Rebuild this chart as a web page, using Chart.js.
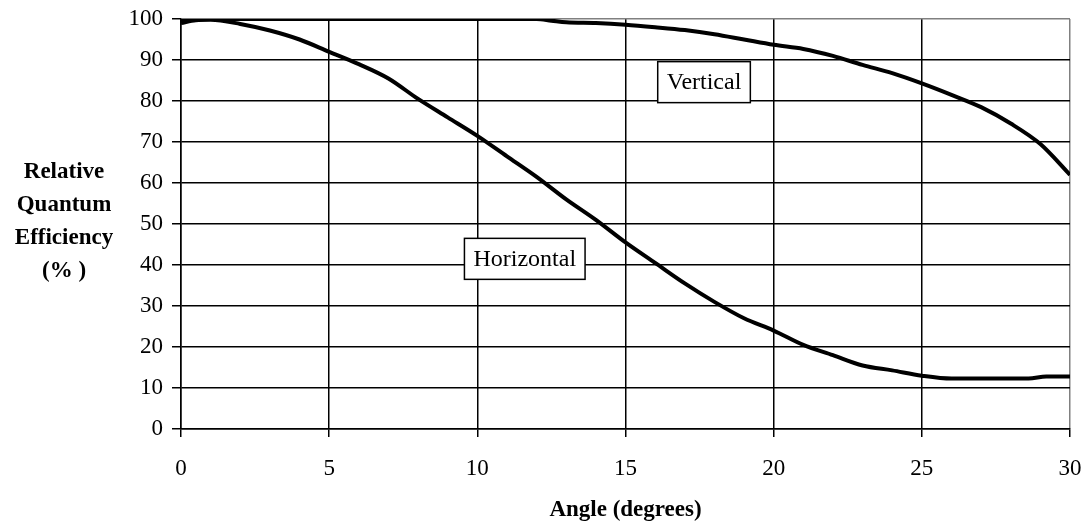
<!DOCTYPE html>
<html>
<head>
<meta charset="utf-8">
<script src="https://cdn.jsdelivr.net/npm/chart.js@4/dist/chart.umd.min.js"></script>
<style>
  html, body { margin: 0; padding: 0; background: #fff; }
  #wrap { width: 1089px; height: 529px; }
</style>
</head>
<body>
<div id="wrap"><canvas id="qe"></canvas></div>
<script>
// angle (degrees) and relative quantum efficiency (%)
var horizAngle = [0, 0.5, 1, 2, 3, 4, 5, 6, 7, 8, 9, 10, 11, 12, 13, 14, 15, 16, 17, 18, 19, 20, 21, 22, 23, 24, 25, 26, 27, 28, 28.6, 29.2, 30];
var horizQE = [99, 99.7, 99.8, 98.8, 97.2, 95, 92, 89, 85.5, 80.5, 76, 71.5, 66.5, 61.5, 56, 51, 45.5, 40.5, 35.5, 31, 27, 24, 20.5, 18, 15.5, 14.3, 13, 12.3, 12.3, 12.3, 12.3, 12.8, 12.8];

var vertAngle = [0, 2, 4, 6, 8, 10, 12, 12.5, 13, 14, 15, 16, 17, 18, 19, 20, 21, 22, 23, 24, 25, 26, 27, 28, 29, 30];
var vertQE = [100, 100, 100, 100, 100, 100, 100, 99.6, 99.2, 99, 98.6, 98, 97.3, 96.3, 95, 93.7, 92.7, 91, 88.8, 86.8, 84.3, 81.5, 78.5, 74.5, 69.5, 62];

var xTicks = [0, 5, 10, 15, 20, 25, 30];
var yTitleLines = ['Relative', 'Quantum', 'Efficiency', '(% )'];
var xTitle = 'Angle (degrees)';

// where the in-plot curve labels sit (data coords)
var curveLabels = [
    { text: 'Vertical', x: 17.65, y: 84.6 },
    { text: 'Horizontal', x: 11.6, y: 41.5 }
];

var serif = '"Liberation Serif", "Times New Roman", serif';

function toPoints(xs, ys) {
    return xs.map(function (x, i) { return { x: x, y: ys[i] }; });
}

var labelPlugin = {
    id: 'labels',
    afterDatasetsDraw: function (chart) {
        var ctx = chart.ctx;
        var xs = chart.scales.x, ys = chart.scales.y;
        ctx.save();
        ctx.font = '24px ' + serif;
        ctx.textAlign = 'center';
        ctx.textBaseline = 'middle';
        curveLabels.forEach(function (l) {
            var cx = xs.getPixelForValue(l.x);
            var cy = ys.getPixelForValue(l.y);
            var w = ctx.measureText(l.text).width + 18;
            var h = 41;
            ctx.fillStyle = '#fff';
            ctx.fillRect(cx - w / 2, cy - h / 2, w, h);
            ctx.strokeStyle = '#000';
            ctx.lineWidth = 1.5;
            ctx.strokeRect(cx - w / 2, cy - h / 2, w, h);
            ctx.fillStyle = '#000';
            ctx.fillText(l.text, cx, cy + 1);
        });
        ctx.restore();
    },
    afterDraw: function (chart) {
        var ctx = chart.ctx;
        var area = chart.chartArea;
        ctx.save();
        ctx.fillStyle = '#000';
        ctx.font = 'bold 23px ' + serif;
        ctx.textAlign = 'center';
        ctx.textBaseline = 'middle';
        yTitleLines.forEach(function (t, i) {
            ctx.fillText(t, 64, 172 + i * 33);
        });
        ctx.fillText(xTitle, (area.left + area.right) / 2, 510);
        ctx.restore();
    }
};

var config = {
    type: 'line',
    data: {
        datasets: [{
            label: 'Horizontal',
            data: toPoints(horizAngle, horizQE),
            borderColor: '#000',
            borderWidth: 4,
            pointRadius: 0,
            cubicInterpolationMode: 'monotone',
            fill: false
        }, {
            label: 'Vertical',
            data: toPoints(vertAngle, vertQE),
            borderColor: '#000',
            borderWidth: 4,
            pointRadius: 0,
            cubicInterpolationMode: 'monotone',
            fill: false
        }]
    },
    options: {
        responsive: true,
        maintainAspectRatio: false,
        animation: false,
        layout: {
            padding: { top: 19, right: 19, left: 0, bottom: 0 }
        },
        plugins: {
            legend: { display: false },
            tooltip: { enabled: false }
        },
        scales: {
            x: {
                type: 'linear',
                min: 0,
                max: 30,
                afterBuildTicks: function (scale) {
                    scale.ticks = xTicks.map(function (v) { return { value: v }; });
                },
                afterFit: function (scale) {
                    scale.height = 100;
                    scale.paddingLeft = 0;
                    scale.paddingRight = 0;
                },
                grid: {
                    color: function (c) { return c.tick && c.tick.value === 30 ? '#808080' : '#000'; },
                    tickColor: '#000',
                    lineWidth: 1.5,
                    tickLength: 8
                },
                border: { color: '#000', width: 1.5 },
                ticks: {
                    color: '#000',
                    padding: 18,
                    maxRotation: 0,
                    font: { family: serif, size: 23 }
                }
            },
            y: {
                min: 0,
                max: 100,
                ticks: {
                    stepSize: 10,
                    color: '#000',
                    padding: 9,
                    font: { family: serif, size: 23 }
                },
                afterFit: function (scale) {
                    scale.width = 181;
                    scale.paddingTop = 0;
                    scale.paddingBottom = 0;
                },
                grid: {
                    color: function (c) { return c.tick && c.tick.value === 100 ? '#808080' : '#000'; },
                    tickColor: '#000',
                    lineWidth: 1.5,
                    tickLength: 9
                },
                border: { color: '#000', width: 1.5 }
            }
        }
    },
    plugins: [labelPlugin]
};

window.onload = function () {
    var ctx = document.getElementById('qe').getContext('2d');
    window.qeChart = new Chart(ctx, config);
};
</script>
</body>
</html>
